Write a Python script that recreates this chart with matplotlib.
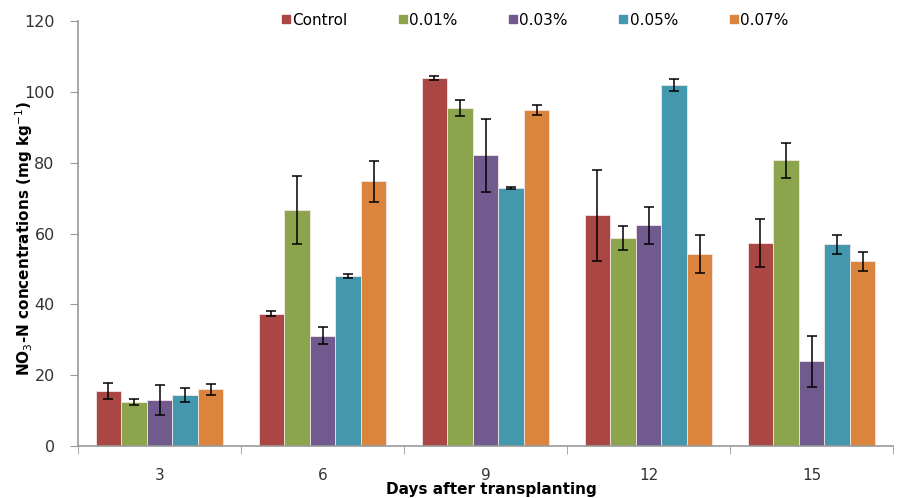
import numpy as np
import matplotlib
matplotlib.use("Agg")
import matplotlib.pyplot as plt
from matplotlib.lines import Line2D

days = ["3", "6", "9", "12", "15"]
treatments = ["Control", "0.01%", "0.03%", "0.05%", "0.07%"]
colors = ["#AA4644", "#8CA54D", "#715A8E", "#4398AE", "#DB843D"]

control = [15.5, 37.4, 104.0, 65.1, 57.3]
t001 = [12.5, 66.6, 95.5, 58.8, 80.7]
t003 = [13.0, 31.2, 82.1, 62.3, 24.0]
t005 = [14.5, 47.9, 72.9, 101.9, 56.9]
t007 = [16.0, 74.8, 95.0, 54.2, 52.2]

err_control = [2.2, 0.7, 0.6, 12.8, 6.8]
err_001 = [0.8, 9.7, 2.2, 3.4, 4.9]
err_003 = [4.3, 2.4, 10.3, 5.3, 7.2]
err_005 = [2.0, 0.6, 0.2, 1.8, 2.7]
err_007 = [1.5, 5.8, 1.4, 5.4, 2.7]

series = [control, t001, t003, t005, t007]
errors = [err_control, err_001, err_003, err_005, err_007]

plt.rcParams["font.family"] = ["DejaVu Sans"]

fig = plt.figure(figsize=(9.04, 4.98), dpi=100)
ax = fig.add_axes([78 / 904, 52 / 498, 815 / 904, 425 / 498])

x = np.arange(len(days))
width = 0.157
offsets = (np.arange(len(treatments)) - 2) * width

for vals, errs, col, off in zip(series, errors, colors, offsets):
    ax.bar(x + off, vals, width, color=col, edgecolor="#F2E6E6", linewidth=0.6,
           yerr=errs, error_kw=dict(ecolor="black", elinewidth=1.1, capsize=3.3, capthick=1.1),
           zorder=2)

ax.set_xlim(-0.5, len(days) - 0.5)
ax.set_ylim(0, 120)
ax.set_yticks(np.arange(0, 121, 20))
ax.set_xticks(x)
ax.set_xticklabels(days)
ax.set_xticks(np.arange(-0.5, len(days), 1.0), minor=True)
ax.tick_params(axis="x", which="major", length=0, pad=16, labelsize=11, labelcolor="#333333")
ax.tick_params(axis="x", which="minor", length=6, direction="out", color="#999999")
ax.tick_params(axis="y", length=5.8, direction="out", color="#999999", labelsize=11.5,
               labelcolor="#333333", pad=11)

for side in ["top", "right"]:
    ax.spines[side].set_visible(False)
for side in ["left", "bottom"]:
    ax.spines[side].set_color("#999999")
    ax.spines[side].set_linewidth(1.2)

fig.text(24 / 904, 1 - 238 / 498, "NO$_3$-N concentrations (mg kg$^{-1}$)", rotation=90,
         ha="center", va="center", fontsize=11, fontweight="bold")
fig.text(491 / 904, 1 - 489 / 498, "Days after transplanting", ha="center", va="center",
         fontsize=11, fontweight="bold")

handles = [Line2D([], [], marker="s", linestyle="none", markersize=6, markerfacecolor=c,
                  markeredgecolor=c) for c in colors]
fig.legend(handles, treatments, loc="center left", bbox_to_anchor=(275 / 904, 1 - 20 / 498),
           ncol=5, frameon=False, fontsize=11, handletextpad=0.1, columnspacing=3.35,
           handlelength=0.6, borderaxespad=0)

fig.savefig("out.png", dpi=100)
